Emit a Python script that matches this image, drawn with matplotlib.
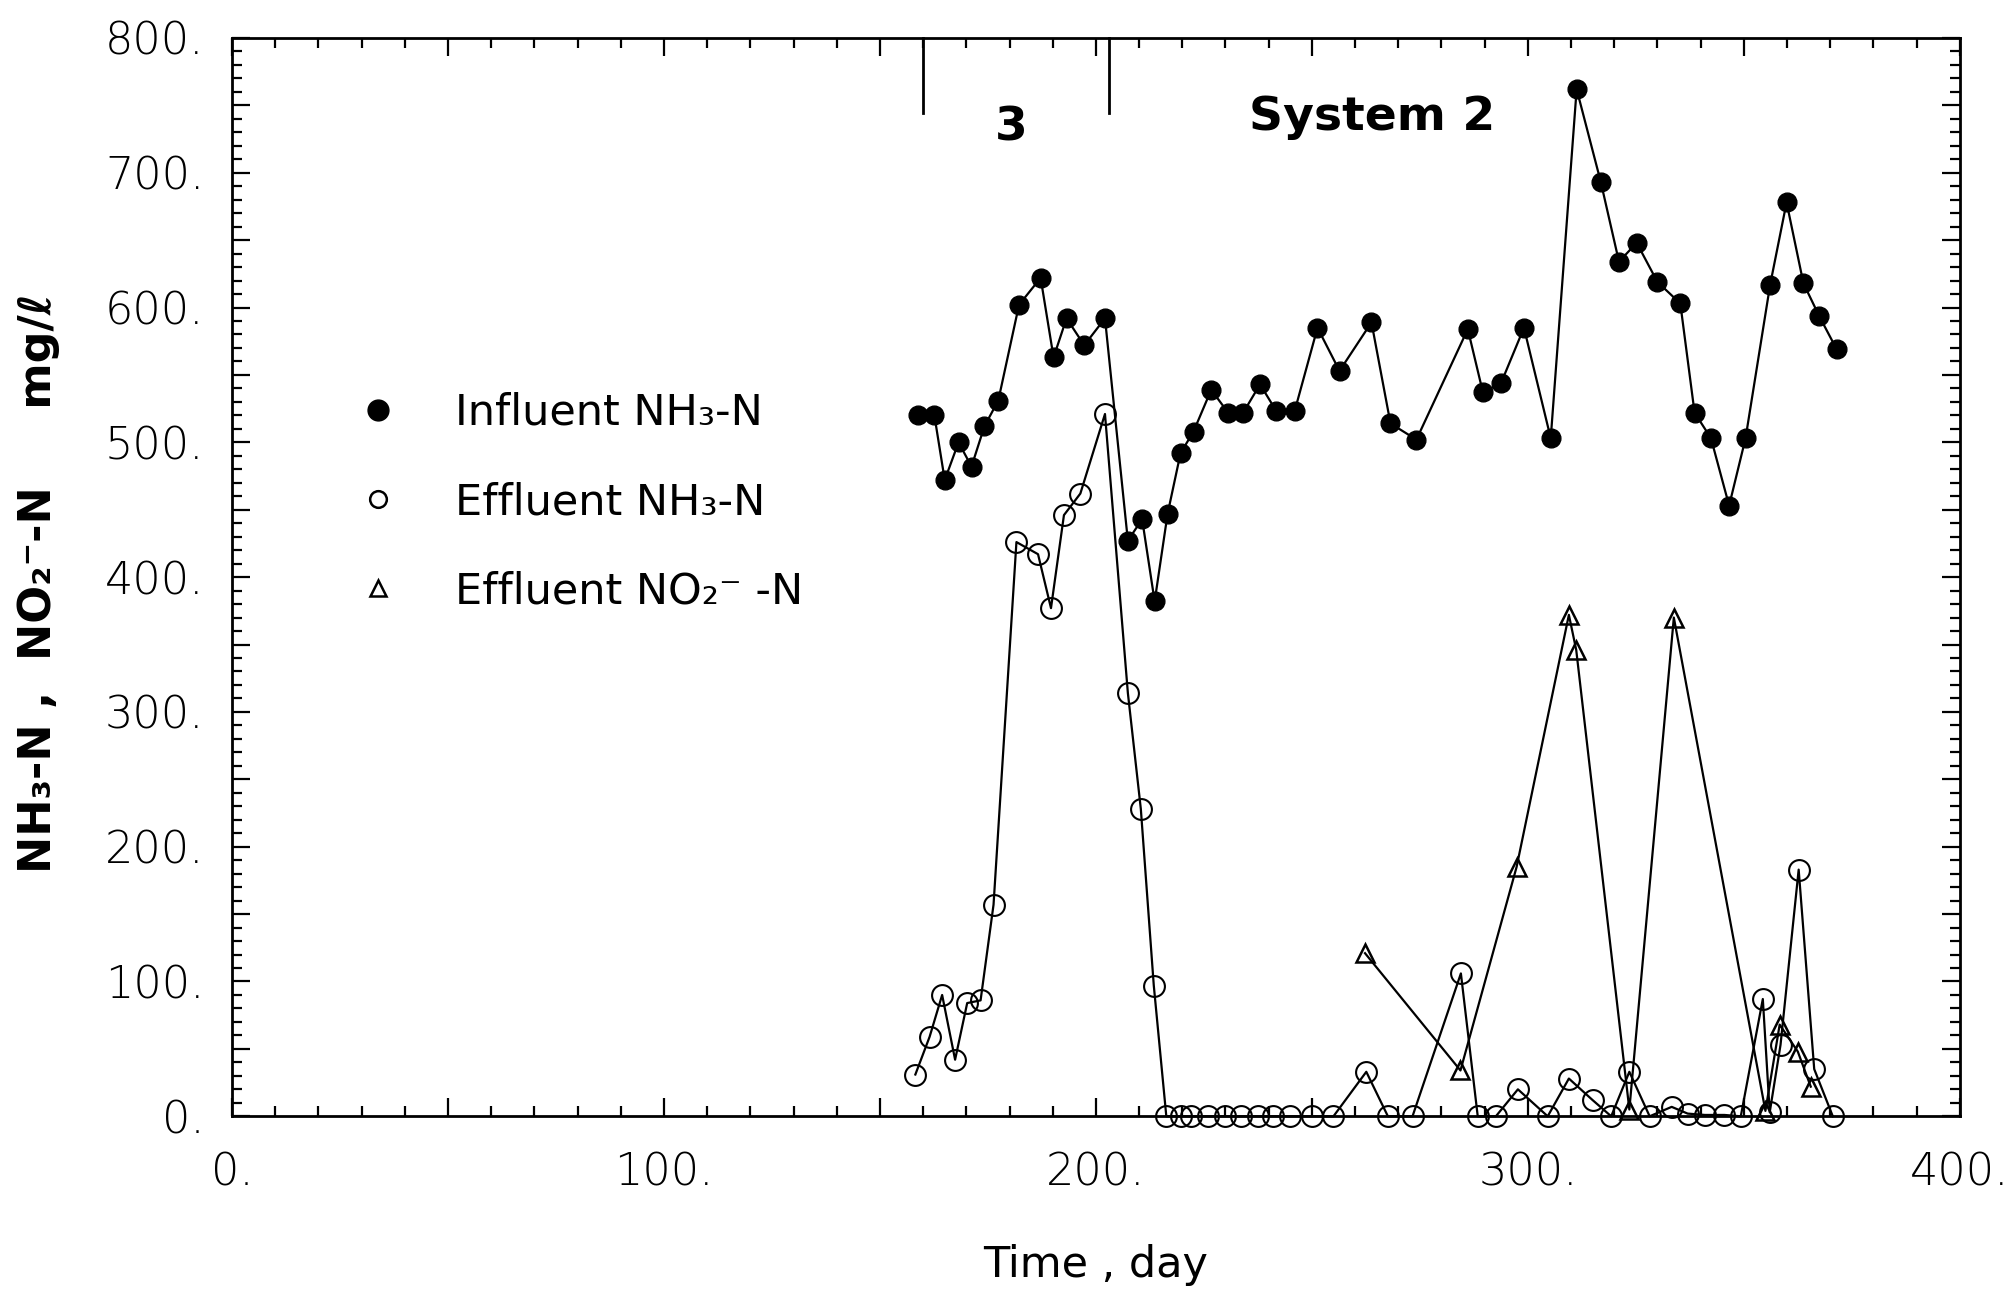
import matplotlib
matplotlib.use("Agg")
import matplotlib.pyplot as plt
from matplotlib.lines import Line2D
from matplotlib.ticker import MultipleLocator, FuncFormatter

# ---------------- data ----------------
infl_day = [158.8, 162.6, 165.0, 168.2, 171.2, 174.2, 177.4, 182.2, 187.2, 190.2,
            193.2, 197.3, 202.1, 207.4, 210.7, 213.6, 216.6, 219.6, 222.6, 226.7,
            230.6, 234.1, 238.0, 241.8, 246.0, 251.3, 256.4, 263.8, 268.2, 274.2,
            286.1, 289.6, 293.8, 299.1, 305.3, 311.3, 316.9, 321.1, 325.2, 330.0,
            335.3, 338.6, 342.4, 346.6, 350.4, 356.1, 359.9, 363.8, 367.4, 371.5]
infl_nh3 = [520, 520, 472, 500, 482, 512, 531, 602, 622, 563,
            592, 572, 592, 427, 443, 382, 447, 492, 508, 539,
            522, 522, 543, 523, 523, 585, 553, 589, 514, 502,
            584, 537, 544, 585, 503, 762, 693, 634, 648, 619,
            603, 522, 503, 453, 503, 617, 678, 618, 594, 569]

eff_day = [158.2, 161.5, 164.4, 167.4, 170.2, 173.3, 176.3, 181.6, 186.6, 189.6,
           192.6, 196.4, 202.1, 207.4, 210.4, 213.4, 216.3, 219.6, 222.0, 226.0,
           230.0, 233.5, 237.5, 241.0, 245.0, 250.0, 255.0, 262.6, 267.6, 273.3,
           284.5, 288.4, 292.6, 297.7, 304.6, 309.5, 315.0, 319.3, 323.5, 328.2,
           333.3, 337.0, 341.0, 345.5, 349.3, 354.4, 356.0, 358.5, 362.7, 366.3,
           370.6]
eff_nh3 = [31, 59, 90, 42, 84, 86, 157, 426, 417, 377,
           446, 462, 521, 314, 228, 97, 0, 0, 0, 0,
           0, 0, 0, 0, 0, 0, 0, 33, 0, 0,
           106, 0, 0, 20, 0, 28, 12, 0, 33, 0,
           7, 2, 1, 1, 0, 87, 3, 53, 183, 35,
           0]

no2_day = [262.3, 284.4, 297.4, 309.5, 311.2, 323.5, 333.8, 355.0, 358.3, 362.5, 365.5]
eff_no2 = [121, 34, 185, 372, 346, 5, 370, 4, 68, 48, 22]

phase_bounds = [160.0, 203.0]
phase_labels = ["3", "System 2"]
phase_label_pos = [(180.5, 733), (264.0, 741)]

legend_labels = ["Influent NH\u2083-N", "Effluent NH\u2083-N", "Effluent NO\u2082\u207b -N"]

# ---------------- figure ----------------
cond = ["Liberation Sans Narrow", "DejaVu Sans"]
fig = plt.figure(figsize=(20.09, 12.95), dpi=100)
ax = fig.add_axes([0.1155, 0.138, 0.860, 0.8327])

lw = 1.6
ax.plot(infl_day, infl_nh3, color="black", lw=lw, marker="o", ms=13.5,
        mfc="black", mec="black", clip_on=False, zorder=3)
ax.plot(eff_day, eff_nh3, color="black", lw=lw, marker="o", ms=15,
        mfc="none", mec="black", mew=1.5, clip_on=False, zorder=3)
ax.plot(no2_day, eff_no2, color="black", lw=lw, marker="^", ms=13,
        mfc="none", mec="black", mew=1.8, clip_on=False, zorder=3)

ax.set_xlim(0, 400)
ax.set_ylim(0, 800)

for s in ax.spines.values():
    s.set_linewidth(2.0)

ax.xaxis.set_major_locator(MultipleLocator(50))
ax.xaxis.set_minor_locator(MultipleLocator(10))
ax.yaxis.set_major_locator(MultipleLocator(50))
ax.yaxis.set_minor_locator(MultipleLocator(10))
ax.tick_params(which="both", direction="in", top=True, right=True, width=1.6)
ax.tick_params(which="major", length=13)
ax.tick_params(which="minor", length=7)
ax.tick_params(axis="x", which="major", pad=25)
ax.tick_params(axis="y", which="major", pad=20)


def fmt(v, pos):
    if abs(v % 100) < 1e-6:
        return f"{int(round(v))}."
    return ""


ax.xaxis.set_major_formatter(FuncFormatter(fmt))
ax.yaxis.set_major_formatter(FuncFormatter(fmt))
for lab in ax.get_xticklabels() + ax.get_yticklabels():
    lab.set_fontfamily("DejaVu Sans")
    lab.set_fontweight("light")
    lab.set_fontsize(32)

# phase boundary markers hanging from top axis
trans = ax.get_xaxis_transform()
for b in phase_bounds:
    ax.plot([b, b], [1.0, 0.93], transform=trans, color="black", lw=2.0,
            clip_on=False)
for txt, (px, py) in zip(phase_labels, phase_label_pos):
    ax.text(px, py, txt, ha="center", va="center", fontsize=34,
            fontweight="bold", family=cond)

# legend
handles = [
    Line2D([], [], ls="none", marker="o", ms=15, mfc="black", mec="black"),
    Line2D([], [], ls="none", marker="o", ms=12, mfc="none", mec="black", mew=1.8),
    Line2D([], [], ls="none", marker="^", ms=12, mfc="none", mec="black", mew=1.8),
]
leg = ax.legend(handles, legend_labels, loc="upper left",
                bbox_to_anchor=(0.072, 0.672), frameon=False,
                handlelength=1.0, handletextpad=1.29, labelspacing=1.1,
                borderpad=0, borderaxespad=0,
                prop={"family": cond, "size": 31})

ax.set_xlabel("Time , day", fontsize=31, family=cond, labelpad=36)
fig.text(0.019, 0.55, "NH\u2083-N ,  NO\u2082\u207b-N     mg/\u2113",
         rotation=90, ha="center", va="center", fontsize=32,
         fontweight="bold", family=cond)

fig.savefig("out.png", dpi=100, facecolor="white")
